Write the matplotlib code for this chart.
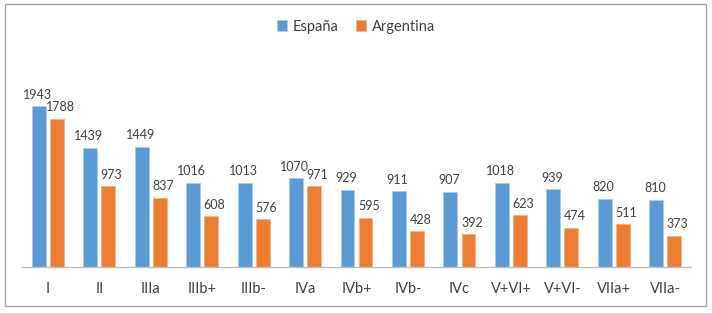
import numpy as np
import matplotlib.pyplot as plt
from matplotlib.patches import Rectangle

# Daten
categories = ["I", "II", "IIIa", "IIIb+", "IIIb-", "IVa", "IVb+", "IVb-", "IVc",
              "V+VI+", "V+VI-", "VIIa+", "VIIa-"]
espana = [1943, 1439, 1449, 1016, 1013, 1070, 929, 911, 907, 1018, 939, 820, 810]
argentina = [1788, 973, 837, 608, 576, 971, 595, 428, 392, 623, 474, 511, 373]

plt.rcParams['font.family'] = ['Lato', 'DejaVu Sans']
txt = '#404040'

fig = plt.figure(figsize=(7.12, 3.13), dpi=100)
ax = fig.add_axes([0.031, 0.148, 0.9395, 0.66])

x = np.arange(len(categories))
w = 0.27
off = 0.175
b1 = ax.bar(x - off, espana, w, color='#5B9BD5', edgecolor='#A9CBEA', linewidth=0.6, label='España')
b2 = ax.bar(x + off, argentina, w, color='#ED7D31', edgecolor='#F4B183', linewidth=0.6, label='Argentina')

# Werte ueber den Balken
for bars, vals, dx in [(b1, espana, -1), (b2, argentina, 2.5)]:
    for r, v in zip(bars, vals):
        ax.annotate(str(v), (r.get_x() + r.get_width() / 2, v), xytext=(dx, 4),
                    textcoords='offset points', ha='center', va='bottom',
                    fontsize=9, color=txt)

ax.set_xlim(-0.5, len(categories) - 0.5)
ax.set_ylim(0, 2500)
ax.set_xticks(x)
ax.set_xticklabels(categories, fontsize=10.5, color=txt)
ax.tick_params(axis='x', length=0, pad=11)
ax.set_yticks([])
for s in ['top', 'right', 'left']:
    ax.spines[s].set_visible(False)
ax.spines['bottom'].set_color('#BFBFBF')
ax.spines['bottom'].set_linewidth(1)

fig.legend(loc='center', bbox_to_anchor=(0.5, 0.915), ncol=2, frameon=False,
           fontsize=10.5, handlelength=0.7, handleheight=0.7, columnspacing=1.2,
           handletextpad=0.4, labelcolor=txt)

# Rahmen
fig.patches.append(Rectangle((5 / 712, 7 / 313), 701 / 712, 302 / 313, transform=fig.transFigure,
                             fill=False, edgecolor='#A6A6A6', linewidth=1))

plt.savefig('out.png', dpi=100)
